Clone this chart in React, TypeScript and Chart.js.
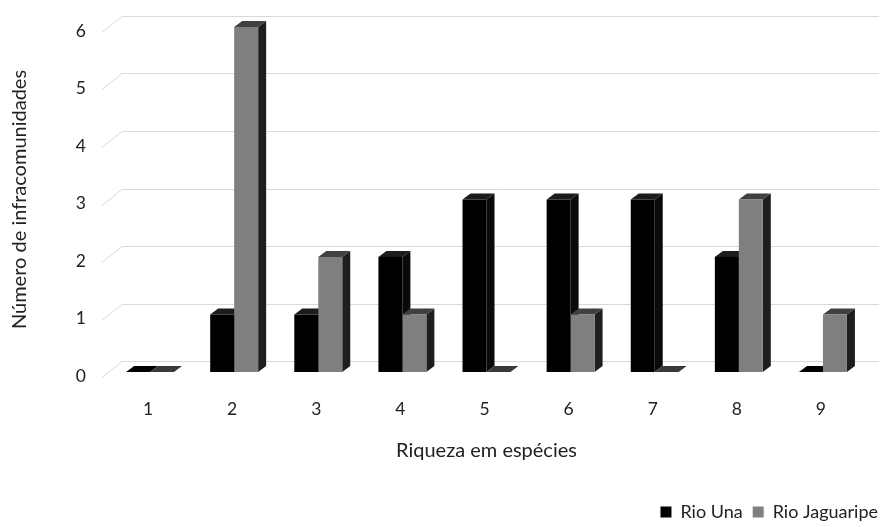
import { useEffect, useRef } from 'react';
import { Chart, registerables } from 'chart.js';

Chart.register(...registerables);

const categories = ['1', '2', '3', '4', '5', '6', '7', '8', '9'];
const seriesNames = ['Rio Una', 'Rio Jaguaripe'];
const rioUna = [0, 1, 1, 2, 3, 3, 3, 2, 0];
const rioJaguaripe = [0, 6, 2, 1, 0, 1, 0, 3, 1];
const yTicks = [0, 1, 2, 3, 4, 5, 6];

const frontColors = ['#000000', '#7f7f7f'];
const topColors = ['#1c1c1c', '#404040'];
const sideColors = ['#0a0a0a', '#1e1e1e'];
const TEXT = '#222222';
const FONT = 'Lato, "Open Sans", sans-serif';

const DX = 8;
const DY = -6;

const bar3d = {
  id: 'bar3d',
  beforeDatasetsDraw(chart: any) {
    const ctx = chart.ctx;
    const ys = chart.scales.y;
    const area = chart.chartArea;
    ctx.save();
    ctx.strokeStyle = '#d9d9d9';
    ctx.lineWidth = 1;
    for (const v of yTicks) {
      const py = ys.getPixelForValue(v);
      const fy = Math.round(py + 5) + 0.5;
      const by = Math.round(py - 11) + 0.5;
      const fx = area.left - 6;
      const bx = fx + 20;
      ctx.beginPath();
      ctx.moveTo(fx, fy);
      ctx.lineTo(bx, by);
      ctx.lineTo(area.right + 14, by);
      ctx.stroke();
    }
    chart.data.datasets.forEach((_ds: any, di: number) => {
      const meta = chart.getDatasetMeta(di);
      meta.data.forEach((el: any) => {
        const { x, y: top, base, width } = el.getProps(['x', 'y', 'base', 'width'], true);
        const l = x - width / 2;
        const r = x + width / 2;
        ctx.fillStyle = sideColors[di];
        ctx.beginPath();
        ctx.moveTo(r, top);
        ctx.lineTo(r + DX, top + DY);
        ctx.lineTo(r + DX, base + DY);
        ctx.lineTo(r, base);
        ctx.closePath();
        ctx.fill();
        ctx.fillStyle = top === base ? (di === 0 ? '#000000' : '#3a3a3a') : topColors[di];
        ctx.beginPath();
        ctx.moveTo(l, top);
        ctx.lineTo(l + DX, top + DY);
        ctx.lineTo(r + DX, top + DY);
        ctx.lineTo(r, top);
        ctx.closePath();
        ctx.fill();
      });
    });
    ctx.restore();
  },
};

export default function App() {
  const ref = useRef<HTMLCanvasElement>(null);

  useEffect(() => {
    document.body.style.margin = '0';
    const chart = new Chart(ref.current as HTMLCanvasElement, {
      type: 'bar',
      data: {
        labels: categories,
        datasets: [
          {
            label: seriesNames[0],
            data: rioUna,
            backgroundColor: frontColors[0],
            borderWidth: 0,
            categoryPercentage: 0.57,
            barPercentage: 1,
          },
          {
            label: seriesNames[1],
            data: rioJaguaripe,
            backgroundColor: frontColors[1],
            borderWidth: 0,
            categoryPercentage: 0.57,
            barPercentage: 1,
          },
        ],
      },
      options: {
        animation: false,
        responsive: true,
        maintainAspectRatio: false,
        layout: { padding: { top: 27, right: 0, left: 0, bottom: -4 } },
        plugins: {
          tooltip: { enabled: false },
          legend: {
            position: 'bottom',
            align: 'end',
            labels: {
              boxWidth: 11,
              boxHeight: 11,
              padding: 10,
              color: TEXT,
              font: { family: FONT, size: 18 },
            },
          },
        },
        scales: {
          x: {
            grid: { display: false },
            border: { display: false },
            ticks: {
              color: TEXT,
              font: { family: FONT, size: 17.5 },
              padding: 19,
              labelOffset: -2,
            },
            title: {
              display: true,
              text: 'Riqueza em espécies',
              color: TEXT,
              font: { family: FONT, size: 20 },
              padding: { top: 0, bottom: 30 },
            },
            afterFit: (s: any) => {
              s.height = 121;
            },
          },
          y: {
            min: 0,
            max: 6,
            grid: { display: false },
            border: { display: false },
            ticks: {
              stepSize: 1,
              color: TEXT,
              font: { family: FONT, size: 17.5 },
              padding: 14,
              labelOffset: 4,
            },
            title: {
              display: true,
              text: 'Número de infracomunidades',
              color: TEXT,
              font: { family: FONT, size: 20 },
              padding: { top: 8, bottom: 0 },
            },
            afterFit: (s: any) => {
              s.width = 108;
            },
          },
          y2: {
            type: 'linear',
            position: 'right',
            display: true,
            grid: { display: false },
            border: { display: false },
            ticks: { display: false },
            afterFit: (s: any) => {
              s.width = 23;
            },
          },
        },
      },
      plugins: [bar3d],
    });
    return () => chart.destroy();
  }, []);

  return (
    <div style={{ position: 'absolute', left: 0, top: 0, width: 888, height: 527 }}>
      <canvas ref={ref} />
    </div>
  );
}
